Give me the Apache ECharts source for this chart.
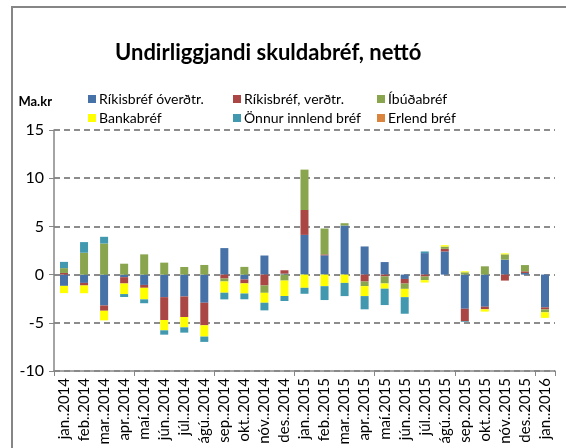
<!DOCTYPE html>
<html>
<head>
<meta charset="utf-8">
<script src="https://cdn.jsdelivr.net/npm/echarts@6/dist/echarts.min.js"></script>
<style>
  html, body { margin: 0; padding: 0; background: #fff; }
  #chart { width: 566px; height: 448px; }
</style>
</head>
<body>
<div id="chart"></div>
<script>
// months on the x axis
let months = ['jan..2014','feb..2014','mar..2014','apr..2014','maí.2014','jún..2014','júl..2014','ágú..2014',
    'sep..2014','okt..2014','nóv..2014','des..2014','jan..2015','feb..2015','mar..2015','apr..2015',
    'maí.2015','jún..2015','júl..2015','ágú..2015','sep..2015','okt..2015','nóv..2015','des..2015','jan..2016'];

// values in Ma.kr
let rikisOverdtr = [-1.17,-0.86,-3.2,-0.27,-1.07,-2.34,-2.27,-2.92,2.75,-0.5,1.98,0.1,4.12,2.0,5.09,2.92,1.3,-0.45,2.23,2.4,-3.54,-3.33,1.55,0.17,-3.4];
let rikisVerdtr = [0.17,-0.27,-0.55,-0.65,-0.3,-2.37,-2.13,-2.34,-0.41,-0.41,-1.13,0.35,2.58,0.1,0,-0.72,-0.18,-0.48,-0.2,0.27,-1.3,-0.27,-0.62,0.17,-0.2];
let ibudabref = [0.5,2.27,3.23,1.13,2.1,1.24,0.79,1.0,-0.3,0.8,-0.76,-0.62,4.19,2.68,0.24,-0.48,-0.74,-0.55,-0.38,0.24,0.24,0.86,0.55,0.65,-0.31];
let bankabref = [-0.75,-0.8,-1.0,-1.1,-1.2,-1.07,-1.07,-1.17,-1.17,-1.05,-1.03,-1.6,-1.37,-1.2,-0.86,-1.03,-0.54,-0.86,-0.24,0.14,0.1,-0.24,0.1,0,-0.58];
let onnurInnlend = [0.65,1.1,0.69,-0.3,-0.4,-0.45,-0.55,-0.55,-0.69,-0.6,-0.79,-0.52,-0.62,-1.44,-1.37,-1.37,-1.7,-1.72,0.17,0,-0.07,0,0,0,0];
let erlendBref = [0,0,0,0,0,0,0,0,0,0,0,0,0,0,0,0,0,0,0,0,0,0,0,0,0];

let yTicks = [-10, -5, 0, 5, 10, 15];

let font = "Lato, 'Liberation Sans', sans-serif";
let names = ['Ríkisbréf óverðtr.','Ríkisbréf, verðtr.','Íbúðabréf','Bankabréf','Önnur innlend bréf','Erlend bréf'];
let colors = ['#4672a8','#aa4643','#89a54e','#ffff00','#4198af','#db843d'];
let values = [rikisOverdtr, rikisVerdtr, ibudabref, bankabref, onnurInnlend, erlendBref];

let legendBase = {
    orient: 'vertical',
    icon: 'rect',
    itemWidth: 8,
    itemHeight: 8,
    itemGap: 5,
    top: 87,
    selectedMode: false,
    textStyle: { fontFamily: font, fontSize: 14, color: '#000', padding: [0, 0, 0, -2] }
};

let option = {
    animation: false,
    title: {
        text: 'Undirliggjandi skuldabréf, nettó',
        left: 110,
        top: 37,
        textStyle: { fontFamily: font, fontSize: 22, fontWeight: 'bold', color: '#000' }
    },
    legend: [
        Object.assign({}, legendBase, { left: 83, data: [names[0], names[3]] }),
        Object.assign({}, legendBase, { left: 228, data: [names[1], names[4]] }),
        Object.assign({}, legendBase, { left: 372, data: [names[2], names[5]] })
    ],
    graphic: [{
        type: 'rect',
        shape: { x: 12, y: 7, width: 600, height: 500 },
        style: { fill: null, stroke: '#868686', lineWidth: 2 },
        silent: true
    }],
    grid: { left: 54, right: 11, top: 130, bottom: 77 },
    xAxis: [{
        // labels at the bottom of the plot
        type: 'category',
        data: months,
        position: 'bottom',
        axisLine: { show: false },
        axisTick: { show: false },
        axisLabel: { rotate: 90, margin: 7, fontFamily: font, fontSize: 15, color: '#000' }
    }, {
        // axis line with ticks at zero
        type: 'category',
        data: months,
        position: 'bottom',
        axisLine: { onZero: true, lineStyle: { color: '#868686', width: 1.5 } },
        axisTick: { show: true, length: 5, lineStyle: { color: '#868686' } },
        axisLabel: { show: false }
    }],
    yAxis: {
        type: 'value',
        min: yTicks[0],
        max: yTicks[yTicks.length - 1],
        interval: 5,
        name: 'Ma.kr',
        nameLocation: 'end',
        nameGap: 28,
        nameTextStyle: { fontFamily: font, fontSize: 13, fontWeight: 'bold', color: '#000', align: 'right', verticalAlign: 'middle', padding: [0, 2, 0, 0] },
        axisLine: { show: true, lineStyle: { color: '#868686', width: 1.5 } },
        axisTick: { show: true, length: 5, lineStyle: { color: '#868686' } },
        axisLabel: { fontFamily: font, fontSize: 16, color: '#000', margin: 10 },
        splitLine: { show: true, lineStyle: { color: '#8c8c8c', width: 2, type: [6, 4] } }
    },
    series: names.map(function (n, i) {
        return {
            name: n,
            type: 'bar',
            stack: 'total',
            barWidth: 8,
            data: values[i],
            itemStyle: { color: colors[i] }
        };
    })
};

let myChart = echarts.init(document.getElementById('chart'));
myChart.setOption(option);
</script>
</body>
</html>
